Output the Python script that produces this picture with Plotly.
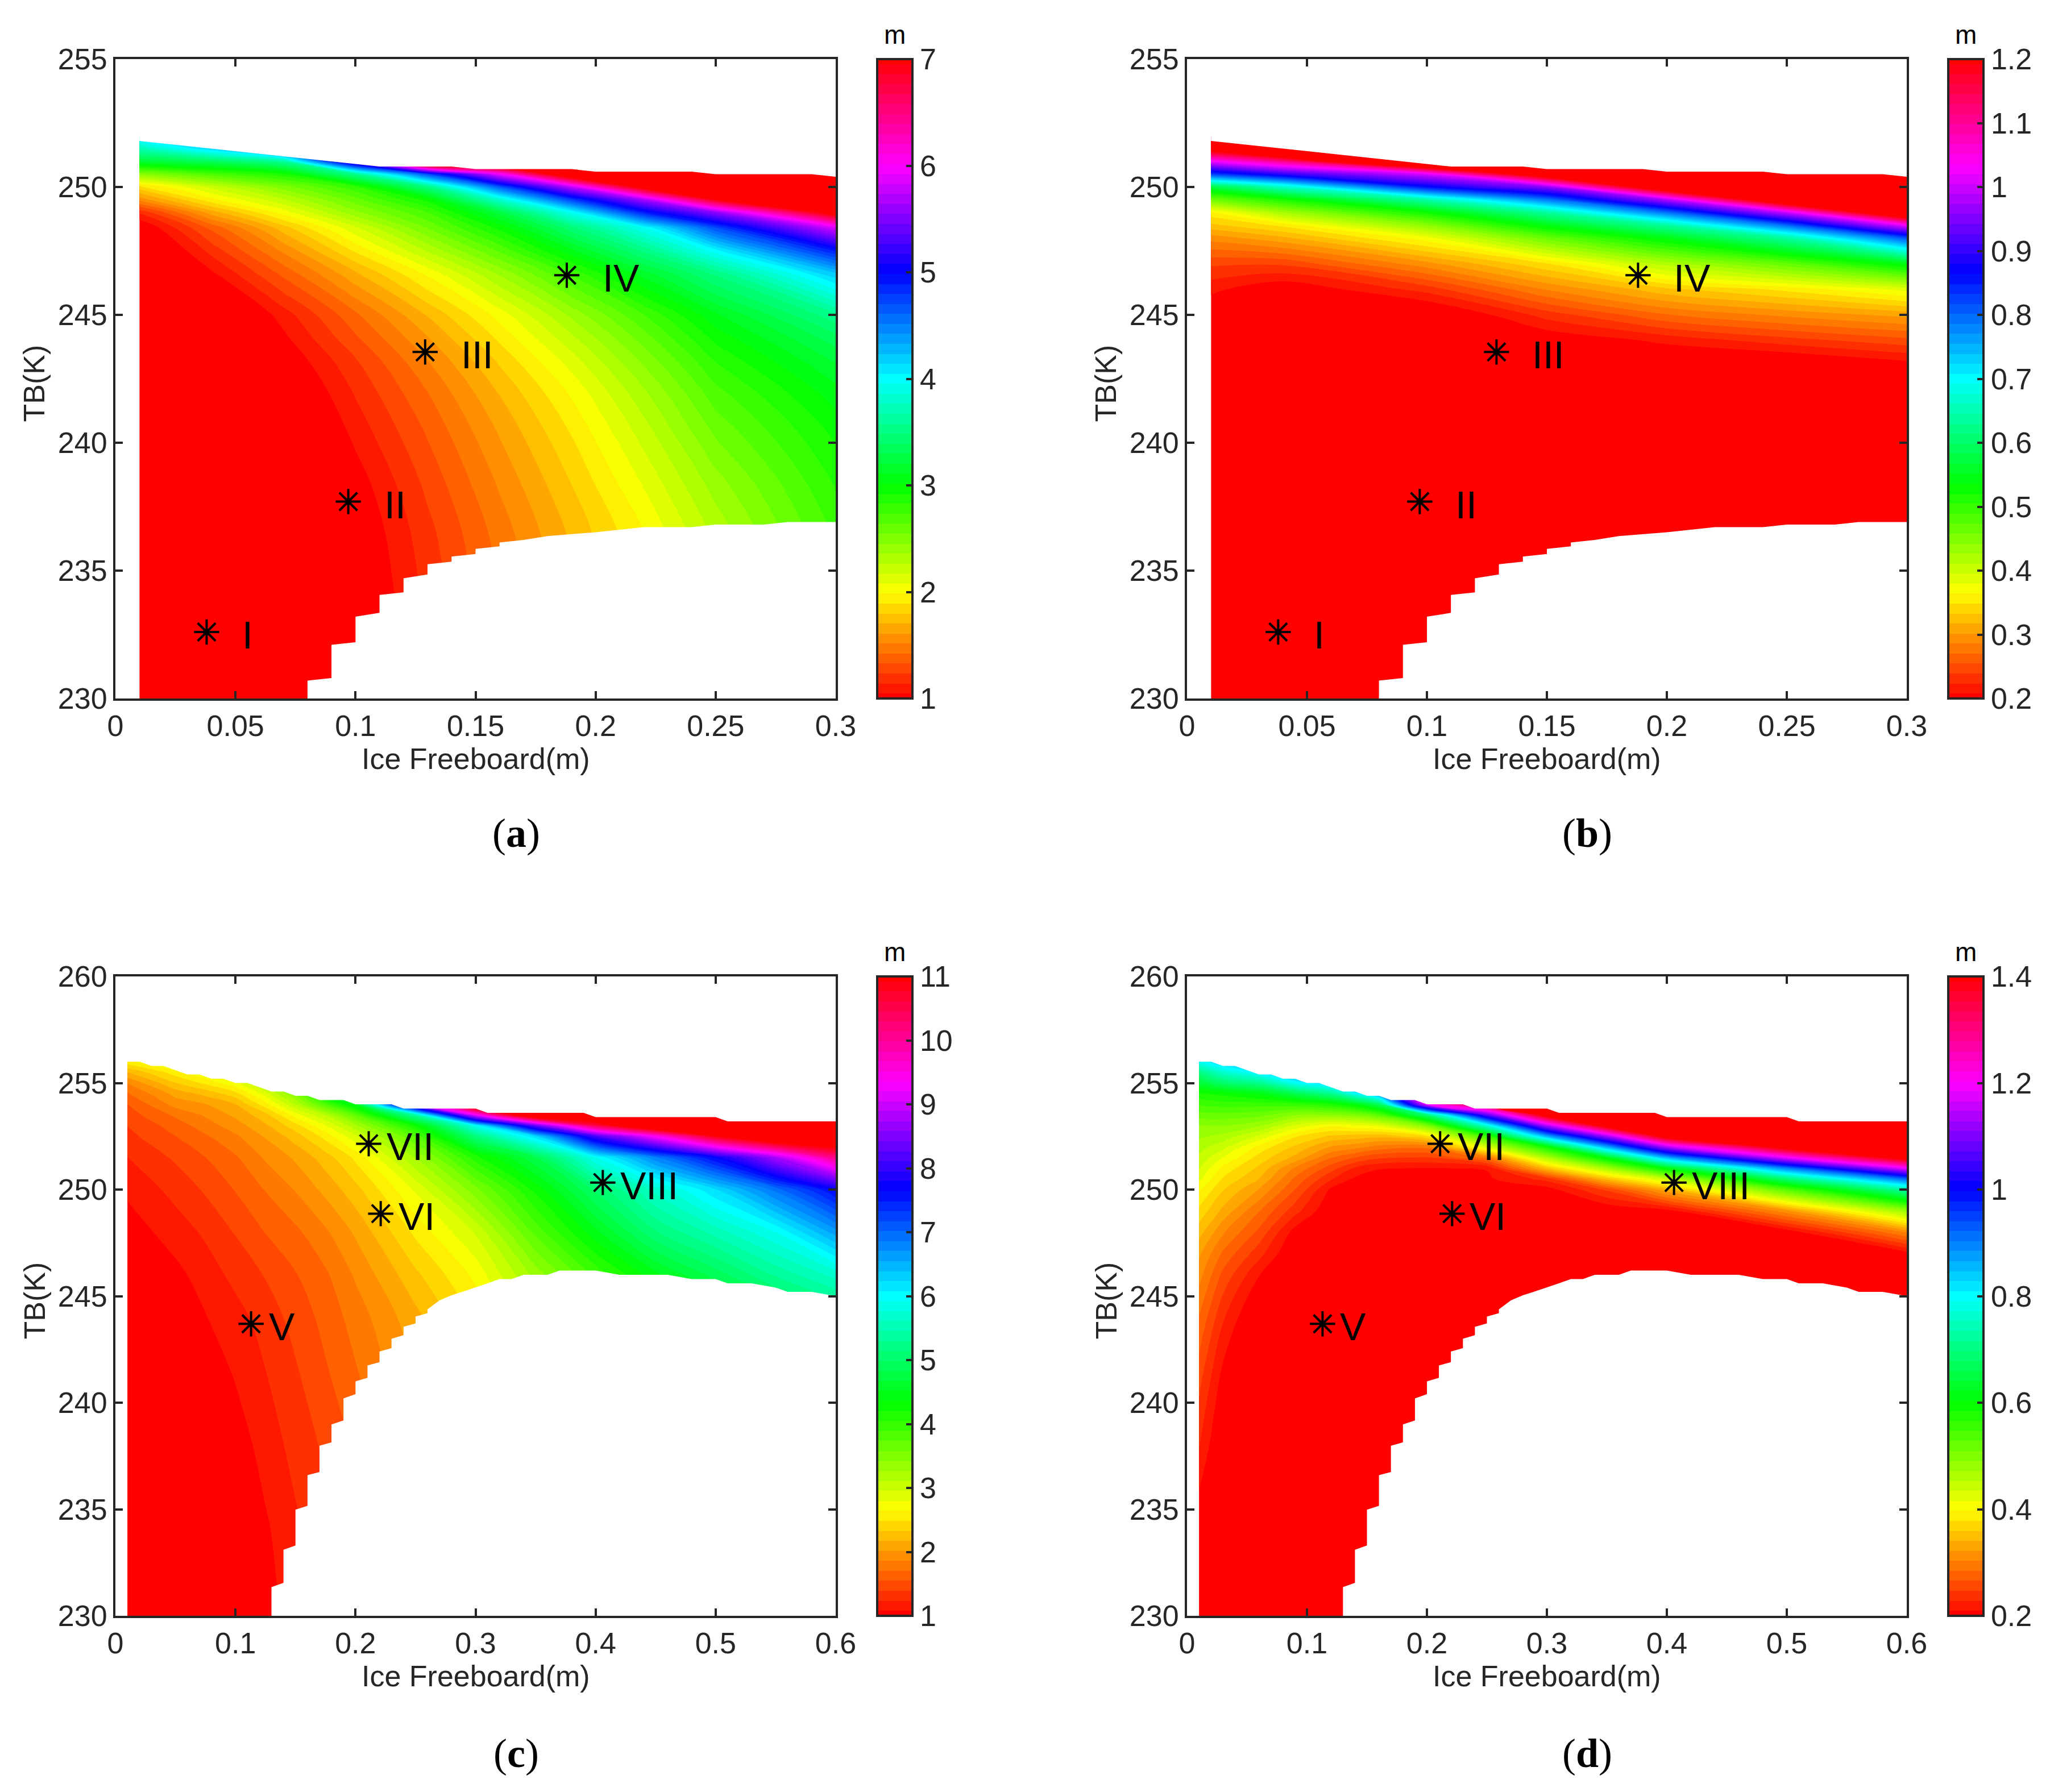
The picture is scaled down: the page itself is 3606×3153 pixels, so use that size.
import numpy as np
import plotly.graph_objects as go

W, H = 3606, 3153
DARK = "#262626"
SANS = "Liberation Sans"

# ---------- shared data ----------
x_a = [.01, .04, .07, .10, .13, .16, .19, .22, .25, .30]
tb_a = [230, 233, 236.5, 238.5, 240.5, 242, 243.2, 244.1, 245, 246.6, 247.5, 248.4, 249, 249.5, 250, 250.5, 251, 251.5, 252]
# one list per x column, one value per TB row
z_a = [
    [.15, .17, .2, .27, .36, .42, .47, .5, .52, .7, .85, .98, 1.2, 1.6, 1.9, 2.5, 3.25, 3.75, 4.2],
    [.4, .43, .46, .52, .6, .67, .74, .79, .85, 1.07, 1.22, 1.4, 1.7, 2.0, 2.25, 2.75, 3.4, 4.2, 4.8],
    [.65, .68, .72, .77, .84, .92, 1.0, 1.07, 1.14, 1.4, 1.58, 1.8, 2.07, 2.3, 2.55, 2.95, 3.65, 5, 7],
    [.9, .94, .985, 1.04, 1.13, 1.2, 1.27, 1.36, 1.45, 1.73, 1.95, 2.2, 2.47, 2.65, 2.85, 3.6, 5.5, 8, 8],
    [1.15, 1.2, 1.25, 1.31, 1.39, 1.47, 1.56, 1.65, 1.76, 2.05, 2.32, 2.6, 2.78, 3.0, 3.55, 4.75, 8, 8, 8],
    [1.4, 1.45, 1.51, 1.58, 1.67, 1.76, 1.86, 1.96, 2.07, 2.42, 2.7, 3.0, 3.29, 3.85, 4.7, 6, 8, 8, 8],
    [1.65, 1.7, 1.77, 1.85, 1.95, 2.05, 2.17, 2.29, 2.43, 2.8, 3.13, 3.5, 4.0, 4.8, 5.8, 7.5, 8, 8, 8],
    [1.9, 1.96, 2.03, 2.14, 2.27, 2.39, 2.52, 2.64, 2.78, 3.2, 3.55, 4.0, 4.93, 5.7, 7.2, 8, 8, 8, 8],
    [2.15, 2.2, 2.34, 2.46, 2.62, 2.75, 2.88, 3.0, 3.14, 3.55, 4.05, 4.75, 5.6, 7.0, 8, 8, 8, 8, 8],
    [2.6, 2.65, 2.8, 2.89, 3.0, 3.12, 3.26, 3.4, 3.6, 4.25, 4.95, 5.9, 7.25, 8, 8, 8, 8, 8, 8],
]

x_b = [.01, .04, .10, .15, .20, .25, .30]
tb_b = [230, 240, 243, 244, 245, 246, 247, 248, 248.5, 249, 249.5, 250, 250.5, 251, 251.5, 252]
z_b = [
    [.1, .12, .15, .17, .2, .22, .25, .3, .336, .367, .468, .583, .833, 1.033, 1.25, 1.4],
    [.1, .12, .16, .18, .195, .2, .25, .321, .36, .433, .524, .67, .904, 1.116, 1.4, 1.4],
    [.1, .12, .16, .18, .19, .238, .304, .381, .45, .533, .652, .867, 1.018, 1.4, 1.4, 1.4],
    [.1, .14, .18, .2, .238, .295, .355, .473, .552, .644, .795, .97, 1.28, 1.4, 1.4, 1.4],
    [.1, .15, .19, .22, .277, .337, .426, .552, .644, .8, .99, 1.3, 1.4, 1.4, 1.4, 1.4],
    [.1, .15, .188, .24, .298, .361, .478, .644, .805, 1.007, 1.31, 1.4, 1.4, 1.4, 1.4, 1.4],
    [.1, .16, .205, .257, .315, .393, .553, .82, 1.033, 1.33, 1.4, 1.4, 1.4, 1.4, 1.4, 1.4],
]

x_c = [.01, .05, .075, .10, .125, .15, .175, .20, .25, .30, .35, .40, .45, .50, .55, .60]
tb_c = [230, 234, 238, 241.3, 244, 246, 248, 250, 251.5, 252.5, 253, 253.5, 254, 254.5, 255, 255.5, 256]
z_c = [
    [.65, .7, .75, .8, .82, .92, 1.07, 1.19, 1.31, 1.42, 1.47, 1.55, 1.62, 1.76, 1.95, 2.25, 2.67],
    [.75, .8, .88, .95, 1.01, 1.11, 1.23, 1.365, 1.495, 1.625, 1.7, 1.81, 2.0, 2.15, 2.4, 2.65, 3.0],
    [.83, .89, .97, 1.04, 1.148, 1.23, 1.34, 1.49, 1.625, 1.76, 1.86, 1.96, 2.09, 2.3, 2.6, 2.9, 3.2],
    [.92, .98, 1.07, 1.17, 1.25, 1.36, 1.48, 1.635, 1.76, 1.91, 2.02, 2.13, 2.25, 2.5, 2.85, 3.2, 3.6],
    [1.08, 1.13, 1.22, 1.305, 1.385, 1.48, 1.63, 1.79, 1.96, 2.11, 2.22, 2.35, 2.65, 2.95, 3.3, 3.8, 4.2],
    [1.24, 1.28, 1.37, 1.445, 1.525, 1.615, 1.745, 1.95, 2.12, 2.33, 2.5, 2.8, 3.2, 3.55, 4, 4.5, 5],
    [1.37, 1.42, 1.5, 1.6, 1.68, 1.755, 1.91, 2.14, 2.33, 2.62, 2.87, 3.2, 3.9, 4.6, 5.5, 7, 8],
    [1.5, 1.55, 1.65, 1.76, 1.85, 1.96, 2.12, 2.35, 2.6, 3.0, 3.3, 3.8, 4.6, 6, 8, 11, 11],
    [1.85, 1.9, 2.0, 2.1, 2.2, 2.37, 2.6, 2.9, 3.35, 3.85, 4.33, 5.5, 9, 12, 12, 12, 12],
    [2.25, 2.3, 2.4, 2.5, 2.6, 2.76, 3.05, 3.6, 4.2, 5.2, 6, 9.33, 12, 12, 12, 12, 12],
    [2.65, 2.7, 2.8, 2.95, 3.1, 3.4, 3.86, 4.33, 4.9, 6.3, 8.4, 12, 12, 12, 12, 12, 12],
    [3.05, 3.1, 3.2, 3.35, 3.6, 4.0, 4.55, 5.1, 6.0, 8.2, 10.6, 12, 12, 12, 12, 12, 12],
    [3.45, 3.5, 3.6, 3.75, 4.0, 4.55, 5.2, 5.75, 6.9, 9.45, 12, 12, 12, 12, 12, 12, 12],
    [3.85, 3.9, 4.0, 4.15, 4.4, 4.97, 5.6, 6.3, 7.75, 11, 12, 12, 12, 12, 12, 12, 12],
    [4.25, 4.3, 4.4, 4.55, 4.75, 5.4, 6.0, 7.0, 8.85, 12, 12, 12, 12, 12, 12, 12, 12],
    [4.55, 4.6, 4.7, 4.9, 5.1, 5.75, 6.7, 7.75, 10.2, 12, 12, 12, 12, 12, 12, 12, 12],
]

x_d = [.01, .03, .06, .09, .12, .14, .16, .20, .25, .30, .35, .40, .50, .60]
tb_d = [230, 235, 238, 241, 244, 246, 247, 248, 249, 250, 250.5, 251, 251.5, 252, 252.5, 253, 253.5, 254, 254.5, 255, 255.5, 256]
z_d = [
    [.15, .21, .24, .262, .293, .32, .335, .358, .382, .41, .43, .445, .458, .47, .485, .498, .53, .56, .59, .65, .71, .8],
    [.15, .17, .19, .21, .24, .27, .29, .315, .345, .37, .385, .4, .425, .45, .475, .5, .53, .565, .6, .69, .77, .85],
    [.15, .15, .16, .17, .19, .22, .245, .27, .295, .33, .35, .365, .38, .4, .44, .485, .525, .565, .62, .72, .82, .9],
    [.15, .15, .15, .15, .16, .18, .195, .21, .245, .275, .29, .31, .345, .365, .39, .44, .5, .57, .67, .8, .9, 1.0],
    [.15, .15, .15, .15, .15, .16, .17, .185, .2, .215, .24, .265, .295, .33, .365, .41, .5, .59, .72, .85, .95, 1.0],
    [.15, .15, .15, .15, .15, .16, .168, .18, .19, .205, .215, .235, .275, .32, .36, .42, .51, .62, .8, 1.0, 1.2, 1.4],
    [.15, .15, .15, .15, .15, .16, .165, .175, .185, .2, .21, .22, .26, .305, .355, .43, .54, .68, .9, 1.2, 1.4, 1.4],
    [.15, .15, .15, .15, .15, .16, .165, .175, .185, .2, .21, .218, .255, .3, .385, .51, .7, 1.2, 1.4, 1.4, 1.4, 1.4],
    [.17, .17, .17, .17, .17, .18, .185, .19, .2, .21, .215, .22, .3, .44, .565, .78, 1.08, 1.4, 1.4, 1.4, 1.4, 1.4],
    [.17, .17, .17, .17, .17, .175, .18, .19, .2, .21, .245, .36, .475, .6, .87, 1.15, 1.45, 1.45, 1.45, 1.45, 1.45, 1.45],
    [.17, .17, .17, .17, .17, .175, .18, .19, .2, .26, .36, .48, .625, .875, 1.14, 1.45, 1.45, 1.45, 1.45, 1.45, 1.45, 1.45],
    [.17, .17, .17, .17, .17, .18, .19, .2, .21, .345, .455, .62, .87, 1.15, 1.45, 1.45, 1.45, 1.45, 1.45, 1.45, 1.45, 1.45],
    [.17, .17, .17, .17, .17, .18, .195, .205, .325, .545, .7, .91, 1.2, 1.45, 1.45, 1.45, 1.45, 1.45, 1.45, 1.45, 1.45, 1.45],
    [.17, .17, .17, .17, .17, .18, .21, .315, .49, .74, .93, 1.2, 1.45, 1.45, 1.45, 1.45, 1.45, 1.45, 1.45, 1.45, 1.45, 1.45],
]

# edge of the valid region, panels a and b
low_ab_x = [.08, .08, .09, .09, .10, .10, .11, .11, .12, .12, .13, .13, .14, .14, .15, .15, .16, .16, .17, .18, .20, .21, .22, .24, .25, .27, .28, .30]
low_ab_y = [230, 230.7, 230.8, 232.1, 232.2, 233.2, 233.35, 234.05, 234.15, 234.7, 234.85, 235.25, 235.35, 235.55, 235.65, 235.85, 235.95, 236.1, 236.2, 236.35, 236.5, 236.6, 236.7, 236.7, 236.8, 236.8, 236.9, 236.9]
up_ab_x = [.01, .11, .14, .15, .19, .20, .24, .25, .29, .30]
up_ab_y = [251.8, 250.8, 250.8, 250.7, 250.7, 250.6, 250.6, 250.5, 250.5, 250.4]
# edge of the valid region, panels c and d
low_cd_x = [.13, .13, .14, .14, .15, .15, .16, .16, .17, .17, .18, .18, .19, .19, .20, .20, .21, .21, .22, .22, .23, .23, .24, .24, .25, .25, .26, .26, .27, .28, .29, .30, .31, .32, .33, .34, .36, .37, .40, .42, .46, .48, .50, .51, .53, .55, .56, .58, .60]
low_cd_y = [230, 231.35, 231.55, 233.1, 233.3, 234.98, 235.16, 236.6, 236.75, 237.98, 238.14, 238.98, 239.17, 240.2, 240.4, 241.0, 241.17, 241.75, 241.9, 242.4, 242.56, 243.0, 243.17, 243.56, 243.72, 244.04, 244.2, 244.38, 244.8, 245.04, 245.22, 245.4, 245.6, 245.8, 245.8, 246, 246, 246.2, 246.2, 246, 246, 245.8, 245.8, 245.6, 245.6, 245.4, 245.2, 245.2, 245]
up_cd_x = [.01, .02, .03, .04, .06, .07, .08, .09, .10, .11, .13, .14, .15, .16, .17, .19, .20, .23, .24, .30, .31, .39, .40, .50, .51, .60]
up_cd_y = [256, 256, 255.8, 255.8, 255.4, 255.4, 255.2, 255.2, 255, 255, 254.6, 254.6, 254.4, 254.4, 254.2, 254.2, 254, 254, 253.8, 253.8, 253.6, 253.6, 253.4, 253.4, 253.2, 253.2]

# starred sample points
pts_ab_x = [.038, .097, .129, .188]
pts_ab_y = [232.6, 237.7, 243.55, 246.55]
pts_ab_text = ["I", "II", "III", "IV"]
pts_cd_x = [.113, .221, .211, .406]
pts_cd_y = [243.7, 248.87, 252.15, 250.33]
pts_cd_text = ["V", "VI", "VII", "VIII"]

# ticks
xt_ab = [0, .05, .10, .15, .20, .25, .30]
xl_ab = ["0", "0.05", "0.1", "0.15", "0.2", "0.25", "0.3"]
xt_cd = [0, .1, .2, .3, .4, .5, .6]
xl_cd = ["0", "0.1", "0.2", "0.3", "0.4", "0.5", "0.6"]
yt_ab = [230, 235, 240, 245, 250, 255]
yt_cd = [230, 235, 240, 245, 250, 255, 260]
cb_a = [1, 2, 3, 4, 5, 6, 7]
cb_b = [.2, .3, .4, .5, .6, .7, .8, .9, 1, 1.1, 1.2]
cb_c = [1, 2, 3, 4, 5, 6, 7, 8, 9, 10, 11]
cb_d = [.2, .4, .6, .8, 1, 1.2, 1.4]
cl_b = ["0.2", "0.3", "0.4", "0.5", "0.6", "0.7", "0.8", "0.9", "1", "1.1", "1.2"]
cl_d = ["0.2", "0.4", "0.6", "0.8", "1", "1.2", "1.4"]

BANDS = 64
HSV = [[0, "#ff0000"], [1/6, "#ffff00"], [2/6, "#00ff00"], [3/6, "#00ffff"],
       [4/6, "#0000ff"], [5/6, "#ff00ff"], [1, "#ff0000"]]

panels = [
    dict(name="a", x=x_a, tb=tb_a, z=z_a, lo=(low_ab_x, low_ab_y), up=(up_ab_x, up_ab_y), xr=[0, .3], yr=[230, 255],
         xt=xt_ab, xl=xl_ab, yt=yt_ab, cr=[1, 7], cb=cb_a, cl=[str(v) for v in cb_a], pts=(pts_ab_x, pts_ab_y, pts_ab_text),
         box=(201, 1472, 102, 1231), bar=(1541, 1607), shift=61, lab=(908, 1466)),
    dict(name="b", x=x_b, tb=tb_b, z=z_b, lo=(low_ab_x, low_ab_y), up=(up_ab_x, up_ab_y), xr=[0, .3], yr=[230, 255],
         xt=xt_ab, xl=xl_ab, yt=yt_ab, cr=[.2, 1.2], cb=cb_b, cl=cl_b, pts=(pts_ab_x, pts_ab_y, pts_ab_text),
         box=(2086, 3356, 102, 1231), bar=(3425, 3491), shift=61, lab=(2792, 1466)),
    dict(name="c", x=x_c, tb=tb_c, z=z_c, lo=(low_cd_x, low_cd_y), up=(up_cd_x, up_cd_y), xr=[0, .6], yr=[230, 260],
         xt=xt_cd, xl=xl_cd, yt=yt_cd, cr=[1, 11], cb=cb_c, cl=[str(v) for v in cb_c], pts=(pts_cd_x, pts_cd_y, pts_cd_text),
         box=(201, 1472, 1716, 2845), bar=(1541, 1607), shift=29, lab=(908, 3085)),
    dict(name="d", x=x_d, tb=tb_d, z=z_d, lo=(low_cd_x, low_cd_y), up=(up_cd_x, up_cd_y), xr=[0, .6], yr=[230, 260],
         xt=xt_cd, xl=xl_cd, yt=yt_cd, cr=[.2, 1.4], cb=cb_d, cl=cl_d, pts=(pts_cd_x, pts_cd_y, pts_cd_text),
         box=(2086, 3356, 1716, 2845), bar=(3425, 3491), shift=29, lab=(2792, 3085)),
]

fig = go.Figure()
annotations = []
layout_axes = {}
LW = 4
FS = 52

for i, p in enumerate(panels):
    sfx = "" if i == 0 else str(i + 1)
    xa, ya = "x" + sfx, "y" + sfx
    l, r, t, b = p["box"]
    step = (p["cr"][1] - p["cr"][0]) / BANDS
    # levels sit half a band in from each end so that the colour bar spans exactly the stated range;
    # the field is moved by the same half band so that the band edges stay where they were read
    fig.add_trace(go.Contour(
        x=p["x"], y=p["tb"], z=(np.array(p["z"]).T - step / 2).tolist(), xaxis=xa, yaxis=ya,
        colorscale=HSV, autocontour=False,
        contours=dict(start=p["cr"][0] + step / 2, end=p["cr"][1] - step / 2, size=step, coloring="fill", showlines=False),
        line=dict(width=0), hoverinfo="skip",
        colorbar=dict(
            x=(p["bar"][0] + 2) / W, xanchor="left", xpad=0, ypad=0,
            y=1 - (t + b) / 2 / H, yanchor="middle", len=(b - t - 4), lenmode="pixels",
            thickness=p["bar"][1] - p["bar"][0] - 4, thicknessmode="pixels",
            outlinewidth=LW, outlinecolor=DARK, ticks="inside", ticklen=13, tickwidth=LW, tickcolor=DARK,
            tickvals=p["cb"], ticktext=p["cl"], tickfont=dict(family=SANS, size=FS, color=DARK),
            borderwidth=0, bgcolor="rgba(0,0,0,0)", showticklabels=True),
    ))
    # white-out outside the valid region
    lx, ly = p["lo"]
    ux, uy = p["up"]
    fig.add_trace(go.Scatter(x=list(lx) + [p["xr"][1]], y=list(ly) + [p["yr"][0]], mode="lines", fill="toself",
                             fillcolor="white", line=dict(width=0), hoverinfo="skip", showlegend=False, xaxis=xa, yaxis=ya))
    fig.add_trace(go.Scatter(x=list(ux) + [p["xr"][1], ux[0]], y=list(uy) + [p["yr"][1], p["yr"][1]], mode="lines", fill="toself",
                             fillcolor="white", line=dict(width=0), hoverinfo="skip", showlegend=False, xaxis=xa, yaxis=ya))
    # starred points
    px, py, pt = p["pts"]
    fig.add_trace(go.Scatter(x=px, y=py, mode="markers", xaxis=xa, yaxis=ya, showlegend=False, hoverinfo="skip",
                             marker=dict(symbol="asterisk-open", size=37, color="black", line=dict(color="black", width=4))))
    for xv, yv, tx in zip(px, py, pt):
        annotations.append(dict(x=xv, y=yv, xref=xa, yref=ya, text=tx, showarrow=False, xanchor="left", yanchor="middle",
                                xshift=p["shift"], yshift=-5, font=dict(family=SANS, size=68, color="black")))
    common = dict(showline=True, linecolor=DARK, linewidth=LW, mirror="ticks", ticks="inside", ticklen=13, tickwidth=LW, tickcolor=DARK,
                  showgrid=False, zeroline=False, tickfont=dict(family=SANS, size=FS, color=DARK))
    layout_axes["xaxis" + sfx] = dict(domain=[(l + 2) / W, (r - 2) / W], range=p["xr"], anchor=ya, tickmode="array",
                                      tickvals=p["xt"], ticktext=p["xl"], **common)
    layout_axes["yaxis" + sfx] = dict(domain=[1 - (b - 2) / H, 1 - (t + 2) / H], range=p["yr"], anchor=xa, tickmode="array",
                                      tickvals=p["yt"], ticktext=[str(v) for v in p["yt"]], **common)
    # axis titles
    annotations.append(dict(x=(l + r) / 2 / W, y=1 - (b + 104) / H, xref="paper", yref="paper", text="Ice Freeboard(m)",
                            showarrow=False, xanchor="center", yanchor="middle", font=dict(family=SANS, size=FS, color=DARK)))
    annotations.append(dict(x=(l - 141) / W, y=1 - ((t + b) / 2 + 8) / H, xref="paper", yref="paper", text="TB(K)", textangle=-90,
                            showarrow=False, xanchor="center", yanchor="middle", font=dict(family=SANS, size=FS, color=DARK)))
    annotations.append(dict(x=(p["bar"][0] + p["bar"][1]) / 2 / W, y=1 - (t - 41) / H, xref="paper", yref="paper", text="m",
                            showarrow=False, xanchor="center", yanchor="middle", font=dict(family=SANS, size=46, color="black")))
    annotations.append(dict(x=p["lab"][0] / W, y=1 - p["lab"][1] / H, xref="paper", yref="paper", text="(<b>%s</b>)" % p["name"],
                            showarrow=False, xanchor="center", yanchor="middle", font=dict(family="Liberation Serif", size=72, color="black")))

fig.update_layout(width=W, height=H, autosize=False, margin=dict(l=0, r=0, t=0, b=0, pad=0),
                  paper_bgcolor="white", plot_bgcolor="white", template=None, showlegend=False,
                  annotations=annotations, **layout_axes)
fig.write_html("out.html", config={"displayModeBar": False}, post_script="document.body.style.margin='0';")
